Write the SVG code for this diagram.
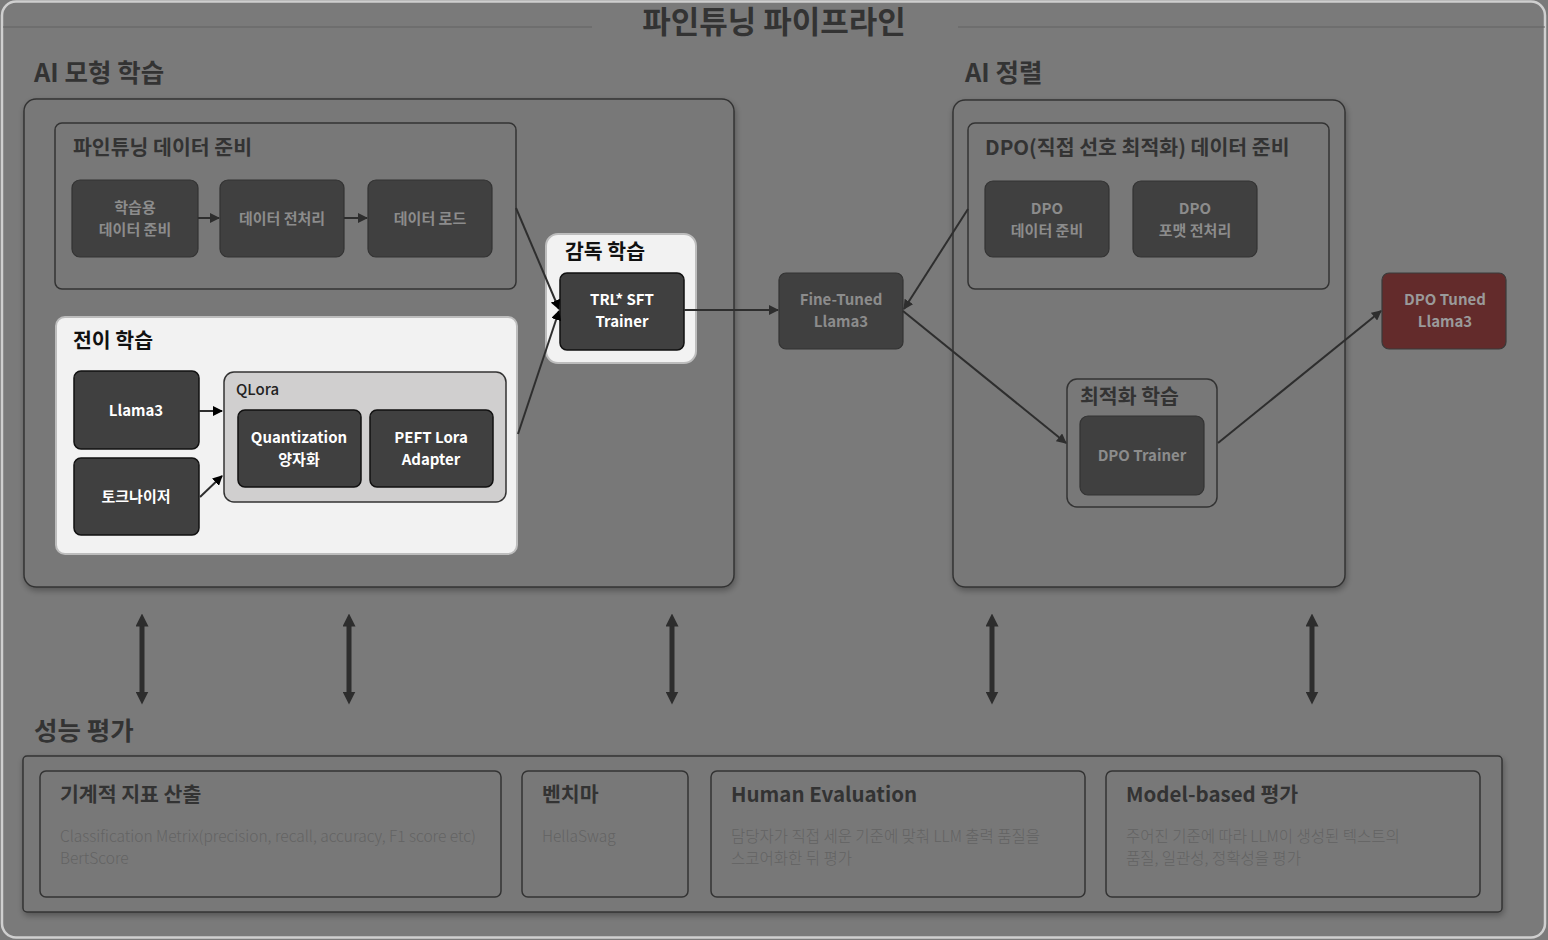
<svg xmlns="http://www.w3.org/2000/svg" width="1548" height="940" viewBox="0 0 1548 940">
<style>
text{font-family:"Noto Sans CJK KR","Noto Sans",sans-serif}
.h1{font-size:31px;font-weight:700;fill:#333}
.h2{font-size:25.5px;font-weight:700;fill:#333}
.h3{font-size:20.5px;font-weight:700;fill:#333}
.h3b{font-size:20.5px;font-weight:700;fill:#111}
.cont{fill:#787878;stroke:#333;stroke-width:1.5}
.grp{fill:#787878;stroke:#333;stroke-width:1.5}
.light{fill:#f2f2f2;stroke:#bdbdbd;stroke-width:2}
.node{fill:#404040;stroke:#333;stroke-width:1.2}
.nodeb{fill:#404040;stroke:#111;stroke-width:1.5}
.nt{font-size:15px;font-weight:700;fill:#8c8c8c;text-anchor:middle}
.ntw{font-size:15px;font-weight:700;fill:#fff;text-anchor:middle}
.desc{font-size:15.5px;font-weight:300;fill:#636363}
.con{stroke:#2e2e2e;stroke-width:2;fill:none}
.dbl{stroke:#2d2d2d;stroke-width:5;fill:none}
</style>
<defs>
<marker id="ah" viewBox="0 0 10 10" refX="9" refY="5" markerWidth="5" markerHeight="5" orient="auto"><path d="M0,0 L10,5 L0,10 z" fill="#2e2e2e"/></marker>
<marker id="ahk" viewBox="0 0 10 10" refX="9" refY="5" markerWidth="5" markerHeight="5" orient="auto"><path d="M0,0 L10,5 L0,10 z" fill="#000"/></marker>
<marker id="big" viewBox="0 0 10 10" refX="5" refY="5" markerWidth="2.6" markerHeight="2.6" orient="auto-start-reverse"><path d="M0,0 L10,5 L0,10 z" fill="#2d2d2d"/></marker>
<filter id="sh" x="-5%" y="-5%" width="110%" height="115%"><feDropShadow dx="1" dy="3" stdDeviation="3" flood-color="#000" flood-opacity="0.3"/></filter>
</defs>
<rect x="0" y="0" width="1548" height="940" fill="#7a7a7a"/>
<rect x="2" y="1.5" width="1543" height="936" rx="14" fill="none" stroke="#cfcfcf" stroke-width="2.5"/>
<path d="M3 27 H592 M958 27 H1545" stroke="#636363" stroke-width="1.2"/>
<text class="h1" x="774" y="33" text-anchor="middle">파인튜닝 파이프라인</text>

<g id="ai-training">
<text class="h2" x="34" y="82">AI 모형 학습</text>
<rect class="cont" x="24" y="99" width="710" height="488" rx="12" filter="url(#sh)"/>
</g>

<g id="finetune-data">
<rect class="grp" x="55" y="123" width="461" height="166" rx="7"/>
<text class="h3" x="73" y="155">파인튜닝 데이터 준비</text>
</g>
<g id="n-train-data"><rect class="node" x="72" y="180" width="126" height="77" rx="8"/><text class="nt" x="135" y="213">학습용</text><text class="nt" x="135" y="235">데이터 준비</text></g>
<g id="n-preprocess"><rect class="node" x="220" y="180" width="124" height="77" rx="8"/><text class="nt" x="282" y="224">데이터 전처리</text></g>
<g id="n-load"><rect class="node" x="368" y="180" width="124" height="77" rx="8"/><text class="nt" x="430" y="224">데이터 로드</text></g>

<g id="transfer">
<rect class="light" x="56" y="317" width="461" height="237" rx="9"/>
<text class="h3b" x="73" y="348">전이 학습</text>
</g>
<g id="n-llama3"><rect class="nodeb" x="74" y="371" width="125" height="78" rx="7"/><text class="ntw" x="136" y="416">Llama3</text></g>
<g id="n-tokenizer"><rect class="nodeb" x="74" y="458" width="125" height="77" rx="7"/><text class="ntw" x="136" y="502">토크나이저</text></g>
<g id="qlora">
<rect x="224" y="372" width="282" height="130" rx="10" fill="#d0cfcf" stroke="#333" stroke-width="1.5"/>
<text x="236" y="395" style="font-size:15px;font-weight:500;fill:#222">QLora</text>
</g>
<g id="n-quant"><rect class="nodeb" x="238" y="410" width="123" height="77" rx="7"/><text class="ntw" x="299" y="443">Quantization</text><text class="ntw" x="299" y="465">양자화</text></g>
<g id="n-peft"><rect class="nodeb" x="370" y="410" width="123" height="77" rx="7"/><text class="ntw" x="431" y="443">PEFT Lora</text><text class="ntw" x="431" y="465">Adapter</text></g>

<g id="supervised">
<rect class="light" x="546" y="234" width="150" height="129" rx="12"/>
<text class="h3b" x="565" y="259">감독 학습</text>
</g>
<g id="n-trl"><rect class="nodeb" x="560" y="273" width="124" height="77" rx="7"/><text class="ntw" x="622" y="305">TRL* SFT</text><text class="ntw" x="622" y="327">Trainer</text></g>

<g id="n-finetuned"><rect class="node" x="779" y="273" width="124" height="76" rx="7"/><text class="nt" x="841" y="305">Fine-Tuned</text><text class="nt" x="841" y="327">Llama3</text></g>

<g id="ai-align">
<text class="h2" x="965" y="82">AI 정렬</text>
<rect class="cont" x="953" y="100" width="392" height="487" rx="12" filter="url(#sh)"/>
</g>
<g id="dpo-data">
<rect class="grp" x="968" y="123" width="361" height="166" rx="7"/>
<text class="h3" x="985" y="155">DPO(직접 선호 최적화) 데이터 준비</text>
</g>
<g id="n-dpo-data"><rect class="node" x="985" y="181" width="124" height="76" rx="8"/><text class="nt" x="1047" y="214">DPO</text><text class="nt" x="1047" y="236">데이터 준비</text></g>
<g id="n-dpo-format"><rect class="node" x="1133" y="181" width="124" height="76" rx="8"/><text class="nt" x="1195" y="214">DPO</text><text class="nt" x="1195" y="236">포맷 전처리</text></g>
<g id="optim">
<rect class="grp" x="1067" y="379" width="150" height="128" rx="10"/>
<text class="h3" x="1080" y="404">최적화 학습</text>
</g>
<g id="n-dpo-trainer"><rect class="node" x="1080" y="416" width="124" height="79" rx="8"/><text class="nt" x="1142" y="461">DPO Trainer</text></g>
<g id="n-dpo-tuned"><rect x="1382" y="273" width="124" height="76" rx="7" fill="#632b2b" stroke="#3a3a3a" stroke-width="1.2"/><text class="nt" x="1445" y="305" style="fill:#9a9a9a">DPO Tuned</text><text class="nt" x="1445" y="327" style="fill:#9a9a9a">Llama3</text></g>

<g id="evaluation">
<text class="h2" x="34" y="740">성능 평가</text>
<rect class="cont" x="23" y="756" width="1479" height="156" rx="4" filter="url(#sh)"/>
</g>
<g id="e-metric"><rect class="grp" x="40" y="771" width="461" height="126" rx="6"/><text class="h3" x="60" y="802">기계적 지표 산출</text><text class="desc" x="60" y="842">Classification Metrix(precision, recall, accuracy, F1 score etc)</text><text class="desc" x="60" y="864">BertScore</text></g>
<g id="e-bench"><rect class="grp" x="522" y="771" width="166" height="126" rx="6"/><text class="h3" x="542" y="802">벤치마</text><text class="desc" x="542" y="842">HellaSwag</text></g>
<g id="e-human"><rect class="grp" x="711" y="771" width="374" height="126" rx="6"/><text class="h3" x="731" y="802">Human Evaluation</text><text class="desc" x="731" y="842">담당자가 직접 세운 기준에 맞춰 LLM 출력 품질을</text><text class="desc" x="731" y="864">스코어화한 뒤 평가</text></g>
<g id="e-model"><rect class="grp" x="1106" y="771" width="374" height="126" rx="6"/><text class="h3" x="1126" y="802">Model-based 평가</text><text class="desc" x="1126" y="842">주어진 기준에 따라 LLM이 생성된 텍스트의</text><text class="desc" x="1126" y="864">품질, 일관성, 정확성을 평가</text></g>

<g id="connectors">
<path class="con" d="M198 218 H219" marker-end="url(#ah)"/>
<path class="con" d="M344 218 H367" marker-end="url(#ah)"/>
<path class="con" d="M199 411 H222" stroke="#000" marker-end="url(#ahk)"/>
<path class="con" d="M200 497 L222 476" stroke="#000" marker-end="url(#ahk)"/>
<path class="con" d="M516 208 L559 309" marker-end="url(#ahk)"/>
<path class="con" d="M518 434 L559 311" marker-end="url(#ahk)"/>
<path class="con" d="M684 310 H778" marker-end="url(#ah)"/>
<path class="con" d="M968 209 L904 309" marker-end="url(#ah)"/>
<path class="con" d="M903 311 L1066 443" marker-end="url(#ah)"/>
<path class="con" d="M1218 443 L1381 311" marker-end="url(#ah)"/>
<path class="dbl" d="M142 620 V698" marker-start="url(#big)" marker-end="url(#big)"/>
<path class="dbl" d="M349 620 V698" marker-start="url(#big)" marker-end="url(#big)"/>
<path class="dbl" d="M672 620 V698" marker-start="url(#big)" marker-end="url(#big)"/>
<path class="dbl" d="M992 620 V698" marker-start="url(#big)" marker-end="url(#big)"/>
<path class="dbl" d="M1312 620 V698" marker-start="url(#big)" marker-end="url(#big)"/>
</g>
</svg>
